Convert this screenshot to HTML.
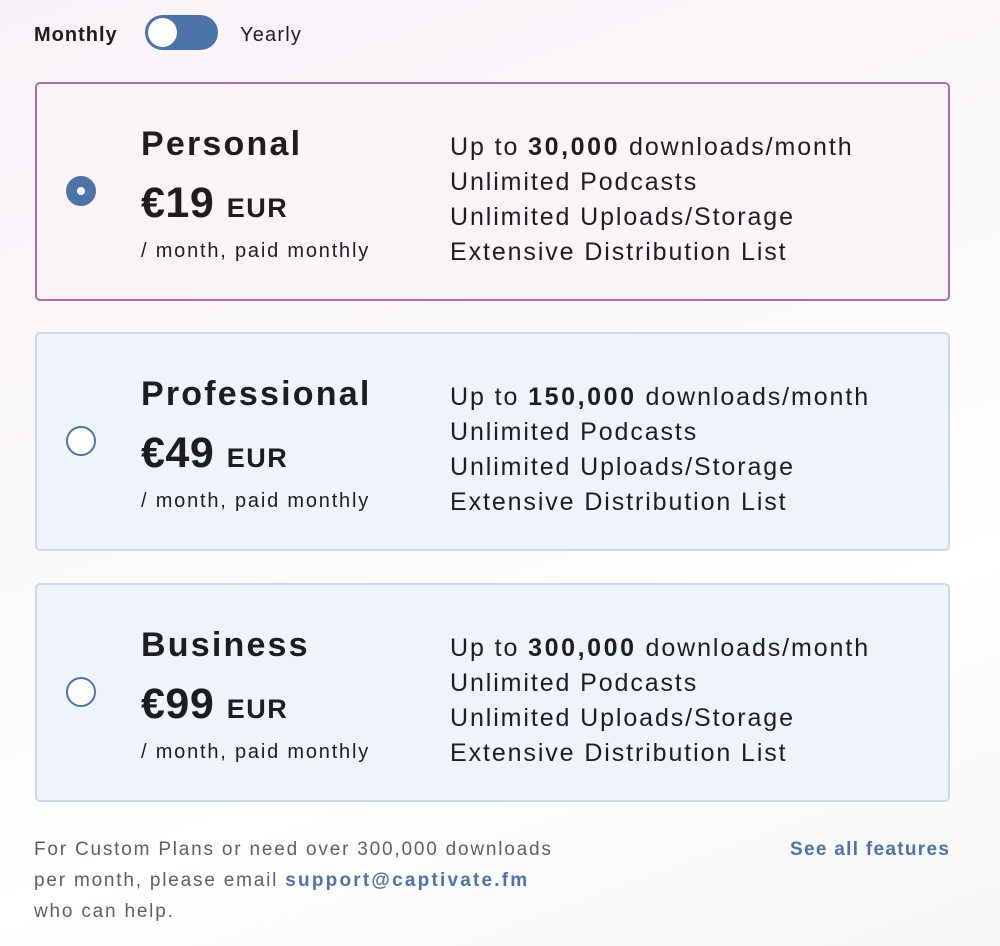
<!DOCTYPE html>
<html><head><meta charset="utf-8"><style>
*{margin:0;padding:0;box-sizing:border-box}
body{width:1000px;height:946px;overflow:hidden;font-family:"Liberation Sans",sans-serif;color:#1d1d1f;background:linear-gradient(160deg,#f8f3f8 0%,#fbf8fb 40%,#fff 70%,#f6f6f7 100%);position:relative}
.a{position:absolute;white-space:nowrap}
.card{position:absolute;left:35px;width:915px;height:219px;border:2px solid #cdd8ec;border-radius:5px;background:#eff3fa}
.card.sel{border-color:#b06aa6;background:#faf4f9}
.radio{position:absolute;left:66px;width:30px;height:30px;border-radius:50%;border:2px solid #4e73a6;background:#fff}
.radio.on{background:#4e73a6}
.radio.on::after{content:"";position:absolute;left:9px;top:9px;width:8px;height:8px;border-radius:50%;background:#fff}
.t{font-size:34px;font-weight:bold;letter-spacing:2.2px;left:141px}
.p{font-size:43px;font-weight:bold;left:141px;letter-spacing:.5px}
.p span{font-size:27px;letter-spacing:1.5px}
.s{font-size:20px;left:141px;letter-spacing:1.8px}
.f{left:450px;font-size:25px;line-height:35px;letter-spacing:1.9px}
.f b{letter-spacing:2.6px}
</style></head><body>
<div class="a" style="left:34px;top:24px;font-size:20px;font-weight:bold;letter-spacing:1px">Monthly</div>
<div class="a" style="left:145px;top:15px;width:73px;height:35px;border-radius:18px;background:#4e73a6"></div>
<div class="a" style="left:148px;top:18px;width:29px;height:29px;border-radius:50%;background:#fff"></div>
<div class="a" style="left:240px;top:24px;font-size:20px;letter-spacing:1.2px">Yearly</div>

<div class="card sel" style="top:82px"></div>
<div class="radio on" style="top:176px"></div>
<div class="a t" style="top:125px">Personal</div>
<div class="a p" style="top:179px">€19 <span>EUR</span></div>
<div class="a s" style="top:240px">/ month, paid monthly</div>
<div class="a f" style="top:130px">Up to <b>30,000</b> downloads/month<br>Unlimited Podcasts<br>Unlimited Uploads/Storage<br>Extensive Distribution List</div>

<div class="card" style="top:332px"></div>
<div class="radio" style="top:426px"></div>
<div class="a t" style="top:375px">Professional</div>
<div class="a p" style="top:429px">€49 <span>EUR</span></div>
<div class="a s" style="top:490px">/ month, paid monthly</div>
<div class="a f" style="top:380px">Up to <b>150,000</b> downloads/month<br>Unlimited Podcasts<br>Unlimited Uploads/Storage<br>Extensive Distribution List</div>

<div class="card" style="top:583px"></div>
<div class="radio" style="top:677px"></div>
<div class="a t" style="top:626px">Business</div>
<div class="a p" style="top:680px">€99 <span>EUR</span></div>
<div class="a s" style="top:741px">/ month, paid monthly</div>
<div class="a f" style="top:631px">Up to <b>300,000</b> downloads/month<br>Unlimited Podcasts<br>Unlimited Uploads/Storage<br>Extensive Distribution List</div>

<div class="a" style="left:34px;top:834px;font-size:19px;line-height:31px;color:#5c5f66;letter-spacing:1.8px">For Custom Plans or need over 300,000 downloads<br>per month, please email <b style="color:#4e73a6;letter-spacing:2.2px">support@captivate.fm</b><br>who can help.</div>
<div class="a" style="left:790px;top:839px;font-size:19px;font-weight:bold;color:#4e73a6;letter-spacing:1.3px">See all features</div>
</body></html>
